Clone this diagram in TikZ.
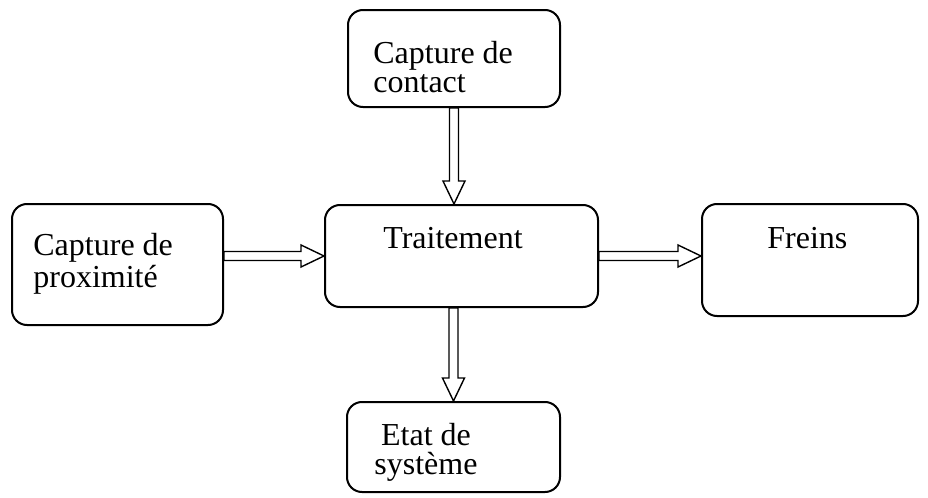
\documentclass[tikz,border=0pt]{standalone}
\usepackage{fontspec}
\setmainfont{Liberation Serif}
\usepackage{tikz}
\usetikzlibrary{calc}

% hollow block arrows, shaft 9px, head 22px wide and 23px long
\newcommand{\arrowdown}[3]{% from (#1) down to (#2), at the x of #3
  \draw[blockarr] ($(#3 |- #1)+(-4.5,0)$) -- ($(#3 |- #2)+(-4.5,-23)$) -- ++(-6.5,0)
    -- (#3 |- #2) -- ($(#3 |- #2)+(11,-23)$) -- ++(-6.5,0) -- ($(#3 |- #1)+(4.5,0)$) -- cycle;}
\newcommand{\arrowright}[3]{% from (#1) right to (#2), at the y of #3
  \draw[blockarr] ($(#1 |- #3)+(0,-4.5)$) -- ($(#2 |- #3)+(-23,-4.5)$) -- ++(0,-6.5)
    -- (#2 |- #3) -- ($(#2 |- #3)+(-23,11)$) -- ++(0,-6.5) -- ($(#1 |- #3)+(0,4.5)$) -- cycle;}

\begin{document}
\begin{tikzpicture}[
    x=0.5pt, y=-0.5pt,
    block/.style={rectangle, draw=black, line width=1pt, rounded corners=7.5pt,
                 inner sep=0pt},
    txt/.style={inner sep=0pt, font=\fontsize{16}{14.5}\selectfont},
    blockarr/.style={draw=black, fill=white, line width=0.7pt, line join=miter}
]
\useasboundingbox (0,0) rectangle (928,498);

% boxes
\node[block, minimum width=106pt, minimum height=48.5pt] at (454,58.5) (contact) {};
\node[block, minimum width=105.5pt, minimum height=60.5pt] at (117.5,264.5) (prox) {};
\node[block, minimum width=136.5pt, minimum height=51pt] at (461.5,256) (trait) {};
\node[block, minimum width=108pt, minimum height=56pt] at (810,260) (freins) {};
\node[block, minimum width=106.5pt, minimum height=45pt] at (453.5,447) (etat) {};

% texts (base = baseline of the last line)
\node[txt, anchor=base west, align=left] at (373,92) (contact-txt) {Capture de\\contact};
\node[txt, anchor=base west, align=left] at (33,287) (prox-txt) {Capture de\\proximité};
\node[txt, anchor=base west] at (383,248) (trait-txt) {Traitement};
\node[txt, anchor=base west] at (767,248) (freins-txt) {Freins};
\node[txt, anchor=base, align=center] at (426,474) (etat-txt) {Etat de\\système};

% arrows
\arrowdown{contact.south}{trait.north}{contact.south}
\arrowright{prox.east}{trait.west}{trait.west}
\arrowright{trait.east}{freins.west}{trait.east}
\arrowdown{trait.south}{etat.north}{etat.north}

\end{tikzpicture}
\end{document}
